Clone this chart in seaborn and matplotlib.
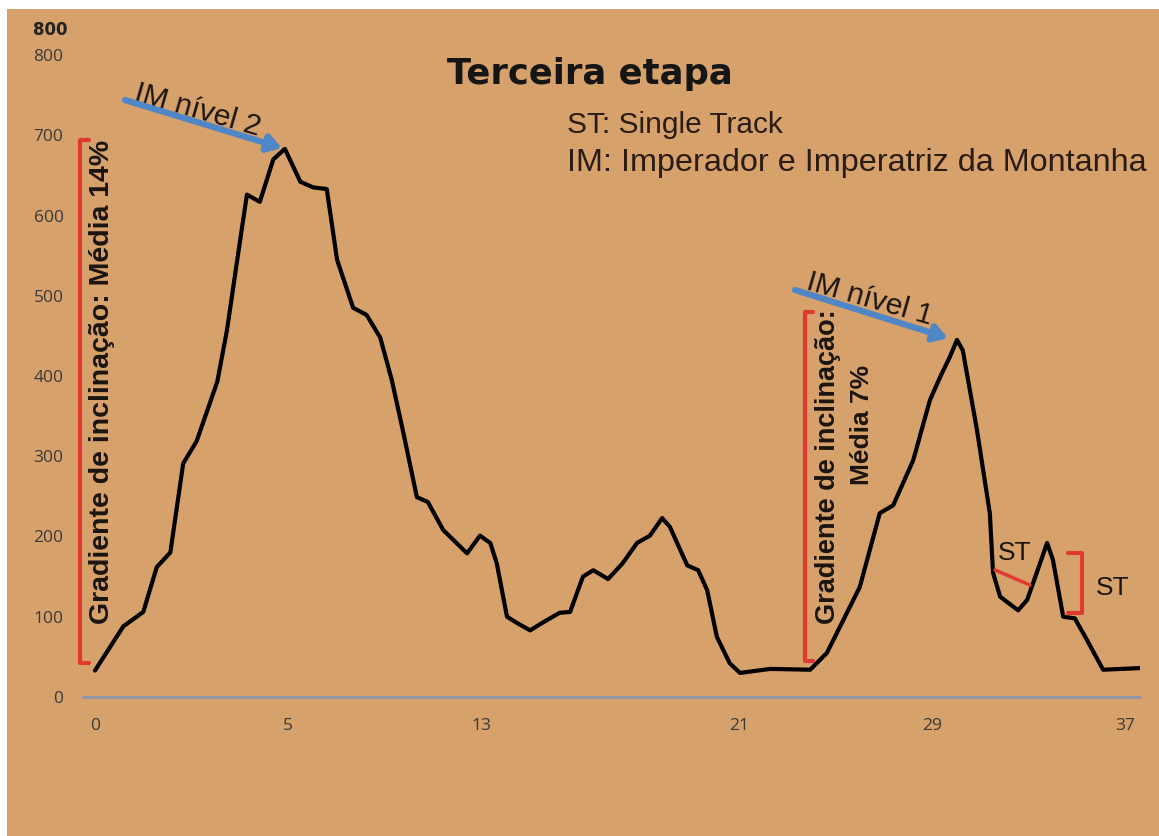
import matplotlib
matplotlib.use("Agg")
import matplotlib.pyplot as plt
from matplotlib.patches import Rectangle, FancyArrowPatch
import seaborn as sns
import pandas as pd

# ---- data (x in category-axis units, elevation in m) ----
dist = [0.00, 0.44, 0.75, 0.96, 1.17, 1.37, 1.58, 1.90, 2.05, 2.21, 2.36, 2.56, 2.77, 2.95,
        3.19, 3.39, 3.60, 3.76, 4.01, 4.22, 4.43, 4.61, 4.78, 5.00, 5.17, 5.41, 5.78, 5.98,
        6.14, 6.24, 6.40, 6.56, 6.76, 6.96, 7.22, 7.38, 7.58, 7.74, 7.97, 8.20, 8.42, 8.62,
        8.81, 8.93, 9.20, 9.37, 9.51, 9.66, 9.86, 10.02, 10.49, 11.11, 11.37, 11.88, 12.19,
        12.40, 12.71, 12.97, 13.13, 13.28, 13.39, 13.48, 13.70, 13.90, 13.95, 14.06, 14.34,
        14.48, 14.63, 14.79, 14.88, 15.04, 15.22, 15.41, 15.66, 16.23]
elev = [33, 88, 106, 162, 180, 291, 319, 393, 457, 545, 626, 617, 670, 683,
        642, 635, 633, 545, 485, 476, 448, 395, 333, 249, 243, 208, 179, 201,
        192, 167, 100, 92, 83, 93, 105, 106, 150, 158, 147, 167, 192, 201,
        223, 212, 164, 158, 133, 75, 42, 30, 35, 34, 55, 137, 229,
        239, 295, 370, 399, 424, 445, 432, 333, 229, 155, 125, 108,
        121, 155, 192, 171, 100, 98, 71, 34, 36]
tick_pos = [0, 3, 6, 10, 13, 16]
tick_labels = ["0", "5", "13", "21", "29", "37"]
y_ticks = [0, 100, 200, 300, 400, 500, 600, 700, 800]

W, H = 1159, 836
fig = plt.figure(figsize=(W / 100, H / 100), dpi=100)
fig.patch.set_facecolor("white")
# cork background
fig.add_artist(Rectangle((7 / W, -0.01), 1.02 - 7 / W, 1.01 - 9 / H, transform=fig.transFigure,
                         facecolor="#d6a16b", edgecolor="none", zorder=0))

sns.set_style("white")
plt.rcParams["font.family"] = ["Liberation Sans", "DejaVu Sans"]

ax = fig.add_axes([83 / W, (H - 697) / H, (1140 - 83) / W, (697 - 55) / H])
ax.set_facecolor("none")

df = pd.DataFrame({"dist": dist, "elev": elev})
sns.lineplot(data=df, x="dist", y="elev", sort=False, color="black", lw=3.0, ax=ax,
             solid_joinstyle="round", solid_capstyle="round")

ax.set_xlim(-12 / 64.375, (1140 - 95) / 64.375)
ax.set_ylim(0, 800)
ax.set_xlabel("")
ax.set_ylabel("")
ax.set_xticks(tick_pos)
ax.set_xticklabels(tick_labels)
ax.set_yticks(y_ticks)
ax.set_yticklabels([str(v) for v in y_ticks])
ax.tick_params(axis="both", length=0, labelsize=12.5, labelcolor="#3a3a3a")
ax.tick_params(axis="y", pad=14)
ax.tick_params(axis="x", pad=15)
for lab in ax.get_xticklabels() + ax.get_yticklabels():
    lab.set_fontfamily(["Open Sans", "DejaVu Sans"])
for s in ["top", "right", "left"]:
    ax.spines[s].set_visible(False)
ax.spines["bottom"].set_color("#8b98a8")
ax.spines["bottom"].set_linewidth(2)
ax.grid(False)

# stray top label
fig.text(68 / W, 1 - 30 / H, "800", ha="right", va="center", fontsize=12,
         fontweight="bold", color="#222222", family=["DejaVu Sans"])

# pixel helper
def P(x, y):
    return (x / W, 1 - y / H)

# title and legend text
fig.text(*P(590, 74), "Terceira etapa", ha="center", va="center", fontsize=25.5,
         fontweight="heavy", color="#151515", family=["DejaVu Sans"])
fig.text(*P(567, 125), "ST: Single Track", ha="left", va="center", fontsize=21.5,
         color="#2a1c14")
fig.text(*P(567, 163), "IM: Imperador e Imperatriz da Montanha", ha="left", va="center",
         fontsize=23.3, color="#2a1c14")

red = "#e03a30"
blue = "#4f86c6"

def bracket(x, y0, y1, tick, side):
    xs = [x + side * tick, x, x, x + side * tick]
    ys = [y0, y0, y1, y1]
    fig.add_artist(plt.Line2D([v / W for v in xs], [1 - v / H for v in ys],
                              transform=fig.transFigure, color=red, lw=3, zorder=5))

bracket(80, 140, 663, 9, 1)
bracket(805, 312, 661, 8, 1)
bracket(1082, 553, 613, -14, 1)
fig.add_artist(plt.Line2D([995 / W, 1030 / W], [1 - 570 / H, 1 - 585 / H],
                          transform=fig.transFigure, color=red, lw=2.5, zorder=5))

# rotated gradient texts
fig.text(*P(102, 382), "Gradiente de inclinação: Média 14%", rotation=90, ha="center",
         va="center", fontsize=20.5, fontweight="bold", color="#1a1410")
fig.text(*P(828, 467), "Gradiente de inclinação:", rotation=90, ha="center",
         va="center", fontsize=19.5, fontweight="bold", color="#1a1410")
fig.text(*P(862, 425), "Média 7%", rotation=90, ha="center",
         va="center", fontsize=19, fontweight="bold", color="#1a1410")

# ST labels
fig.text(*P(1015, 553), "ST", ha="center", va="center", fontsize=19, color="#1a1410")
fig.text(*P(1113, 588), "ST", ha="center", va="center", fontsize=19, color="#1a1410")

# IM arrows and labels
for (x0, y0, x1, y1, label, tx, ty) in [
    (125, 100, 282, 148, "IM nível 2", 198, 110),
    (795, 290, 948, 338, "IM nível 1", 870, 299),
]:
    arr = FancyArrowPatch(P(x0, y0), P(x1, y1), transform=fig.transFigure,
                          arrowstyle="-|>,head_length=8,head_width=5", color=blue,
                          lw=4.5, zorder=6, shrinkA=0, shrinkB=0)
    fig.add_artist(arr)
    fig.text(*P(tx, ty), label, rotation=-16, ha="center", va="center", fontsize=21.5,
             color="#1a1410", rotation_mode="anchor")

fig.savefig("out.png", dpi=100, facecolor=fig.get_facecolor())
